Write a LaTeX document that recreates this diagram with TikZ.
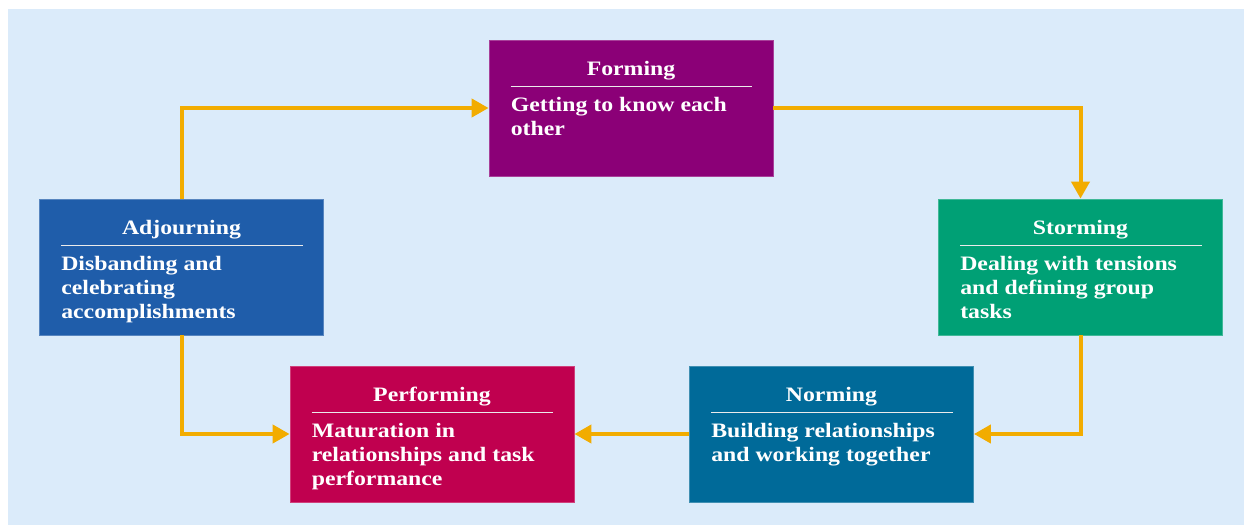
\documentclass[tikz,border=0pt]{standalone}
\usepackage{fontspec}
\setmainfont{Liberation Serif}[FakeStretch=1.16]
\usetikzlibrary{arrows.meta,calc}
\definecolor{bgblue}{HTML}{DBEBFA}
\definecolor{cform}{HTML}{8B0077}
\definecolor{cstorm}{HTML}{00A075}
\definecolor{cadj}{HTML}{1F5DAA}
\definecolor{cperf}{HTML}{C0004F}
\definecolor{cnorm}{HTML}{006A99}
\definecolor{carrow}{HTML}{F2AC00}
\tikzset{
  box/.style={rectangle, minimum width=284pt, minimum height=136pt, inner sep=0pt, line width=0.8pt},
  titletext/.style={inner sep=0pt, text=white, font=\fontsize{20.5}{24}\selectfont\bfseries},
  bodytext/.style={inner sep=0pt, text=white, align=left, font=\fontsize{20.5}{24}\selectfont\bfseries},
  rulestyle/.style={white!92!black, line width=1.1pt},
  flow/.style={carrow, line width=4pt, -{Triangle[length=17pt,width=18pt]}}
}
% #6 = offset from box top to the baseline of the last body line
\newcommand\stagebox[6]{%
  \node[box, fill=#3, draw=#3!75!white] (#1) at (#2) {};
  \node[titletext, anchor=base] (#1-t) at ($(#1.north)+(0,36)$) {#4};
  \draw[rulestyle] ($(#1.north west)+(22,47)$) -- ($(#1.north east)+(-21,47)$);
  \node[bodytext, anchor=base west] (#1-b) at ($(#1.north west)+(22,#6)$) {#5};
}
\begin{document}
\begin{tikzpicture}[x=1pt,y=-1pt]
\useasboundingbox (0,0) rectangle (1244,525);
\fill[bgblue] (8,9) rectangle (1244,525);
\stagebox{forming}{631,108}{cform}{Forming}{Getting to know each\\other}{96}
\stagebox{storming}{1080.5,267}{cstorm}{Storming}{Dealing with tensions\\and defining group\\tasks}{120}
\stagebox{adjourning}{181.5,267}{cadj}{Adjourning}{Disbanding and\\celebrating\\accomplishments}{120}
\stagebox{performing}{432,434}{cperf}{Performing}{Maturation in\\relationships and task\\performance}{120}
\stagebox{norming}{831.5,434}{cnorm}{Norming}{Building relationships\\and working together}{96}
\draw[flow] (forming.east) -| (storming.north);
\draw[flow] (storming.south) |- (norming.east);
\draw[flow] (norming.west) -- (performing.east);
\draw[flow] (adjourning.south) |- (performing.west);
\draw[flow] (adjourning.north) |- (forming.west);
\end{tikzpicture}
\end{document}
